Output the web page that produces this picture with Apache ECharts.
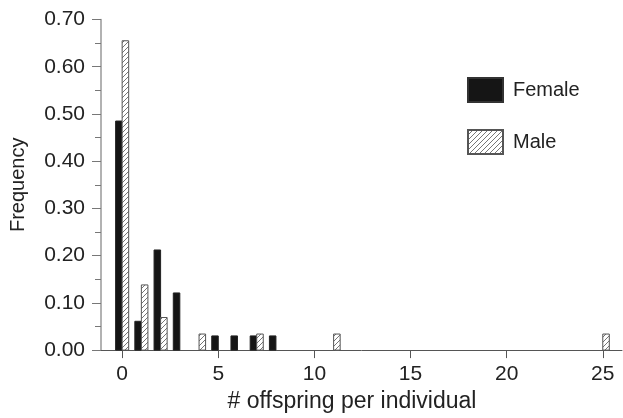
<!DOCTYPE html>
<html><head><meta charset="utf-8">
<script src="https://cdn.jsdelivr.net/npm/echarts@6/dist/echarts.min.js"></script>
<style>html,body{margin:0;padding:0;background:#fff}#c{width:623px;height:418px}</style>
</head><body><div id="c"></div>
<script>
// Data
const femaleCounts = [0,1,2,3,5,6,7,8];
const femaleFreq   = [0.485,0.061,0.212,0.121,0.030,0.030,0.030,0.030];
const maleCounts = [0,1,2,4,7,11,25];
const maleFreq   = [0.655,0.138,0.069,0.034,0.034,0.034,0.034];
const xTicks = [0,5,10,15,20,25];

function hatch(){
  const c = document.createElement('canvas');
  c.width = 5; c.height = 5;
  const g = c.getContext('2d');
  g.fillStyle = '#fff'; g.fillRect(0,0,5,5);
  g.strokeStyle = '#666'; g.lineWidth = 0.9;
  g.beginPath();
  g.moveTo(-1,6); g.lineTo(6,-1);
  g.moveTo(-1,1); g.lineTo(1,-1);
  g.moveTo(4,6); g.lineTo(6,4);
  g.stroke();
  return c;
}
const hatchPattern = {image: hatch(), repeat: 'repeat'};

const BAR_W = 0.34;
function makeRender(offset, fill, stroke){
  return function(params, api){
    const x = api.value(0), y = api.value(1);
    const p0 = api.coord([x + offset - BAR_W/2, y]);
    const p1 = api.coord([x + offset + BAR_W/2, 0]);
    return {type:'rect', shape:{x:p0[0], y:p0[1], width:p1[0]-p0[0], height:p1[1]-p0[1]},
      style:{fill: fill, stroke: stroke, lineWidth: 1}};
  };
}

const chart = echarts.init(document.getElementById('c'), null, {renderer:'canvas'});
const font = 'Liberation Sans, Arial, Helvetica, sans-serif';
chart.setOption({
  animation:false,
  textStyle:{fontFamily:font},
  grid:{left:101, right:1, top:19.5, bottom:66},
  legend:{
    orient:'vertical', left:467, top:77, padding:0, itemWidth:35, itemHeight:24, itemGap:26,
    textStyle:{fontSize:20, color:'#222', fontFamily:font, padding:[0,0,0,5]},
    data:[{name:'Female', icon:'rect'},{name:'Male', icon:'rect'}]
  },
  xAxis:{
    type:'value', min:-1.1, max:26, interval:5,
    name:'# offspring per individual', nameLocation:'middle', nameGap:33,
    nameTextStyle:{fontSize:23, color:'#222', fontFamily:font, padding:[0,19,0,0]},
    axisLine:{show:true, onZero:false, lineStyle:{color:'#555', width:1}},
    axisTick:{show:true, inside:false, length:8, lineStyle:{color:'#555', width:1},
      customValues: xTicks},
    axisLabel:{fontSize:21, color:'#222', margin:14, customValues: xTicks},
    splitLine:{show:false}
  },
  yAxis:{
    type:'value', min:0, max:0.7, interval:0.1,
    name:'Frequency', nameLocation:'middle', nameGap:73,
    nameTextStyle:{fontSize:20, color:'#222', fontFamily:font},
    axisLine:{show:true, onZero:false, lineStyle:{color:'#999', width:1.5}},
    axisTick:{show:true, inside:false, length:9, lineStyle:{color:'#777', width:1}},
    minorTick:{show:true, splitNumber:2, length:6, lineStyle:{color:'#777'}},
    axisLabel:{fontSize:21, color:'#222', margin:16, formatter: v => v.toFixed(2)},
    splitLine:{show:false}
  },
  series:[
    {name:'Female', type:'custom', itemStyle:{color:'#151515', borderColor:'#333', borderWidth:1},
     renderItem: makeRender(-BAR_W/2, '#151515', '#222'),
     data: femaleCounts.map((c,i)=>[c, femaleFreq[i]])},
    {name:'Male', type:'custom', itemStyle:{color:hatchPattern, borderColor:'#555', borderWidth:1},
     renderItem: makeRender(BAR_W/2, hatchPattern, '#555'),
     data: maleCounts.map((c,i)=>[c, maleFreq[i]])}
  ]
});
</script></body></html>
